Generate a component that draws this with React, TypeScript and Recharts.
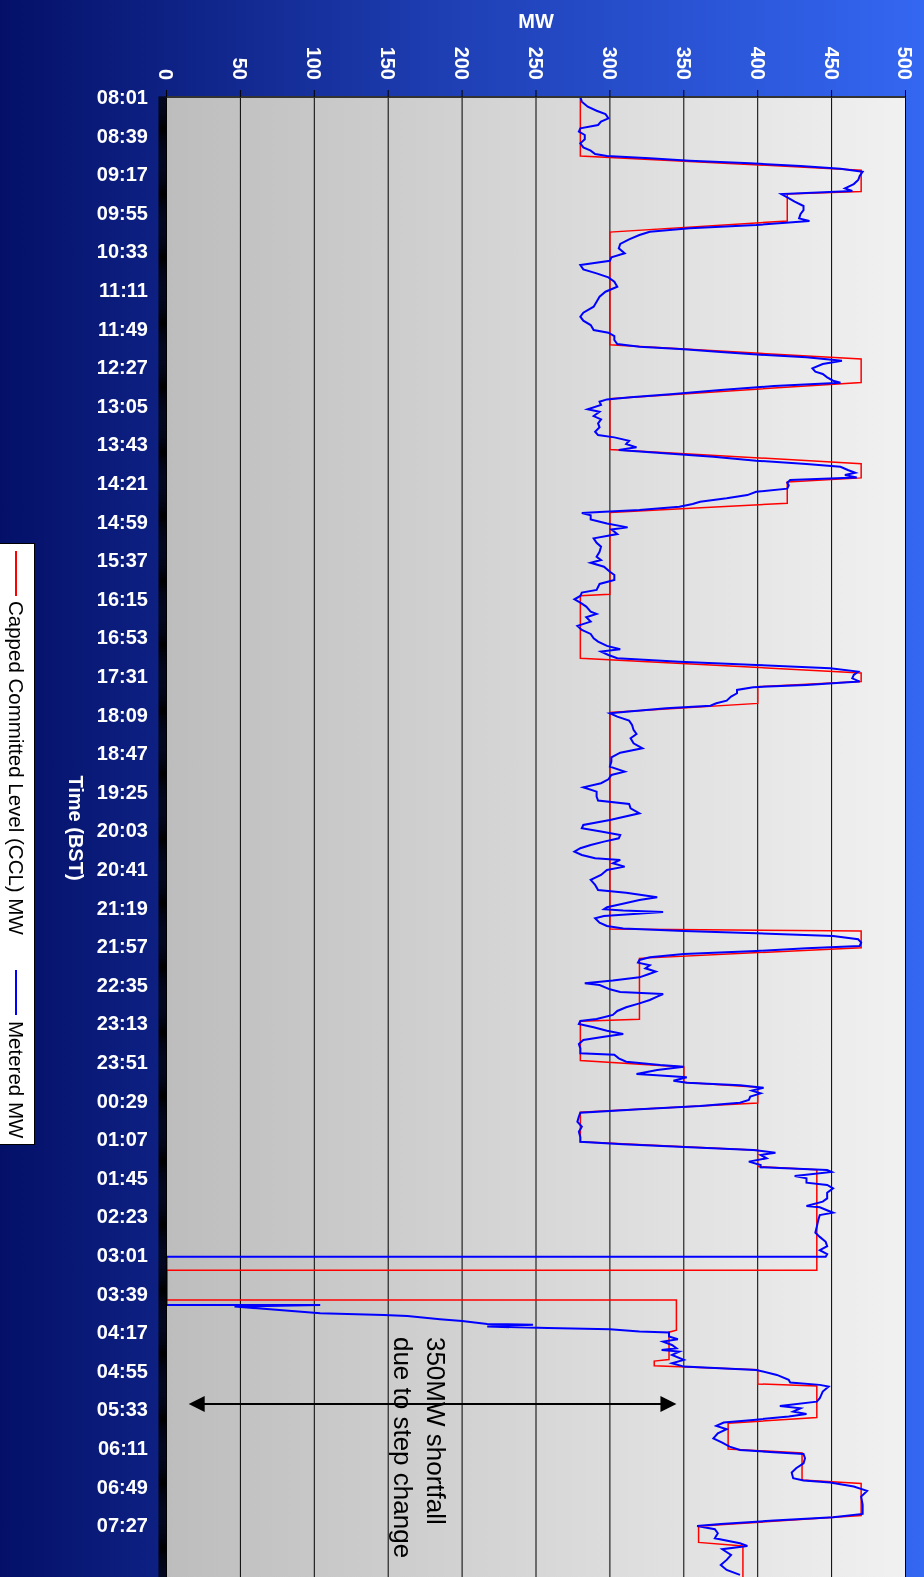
import React from 'react';
import { LineChart, Line, XAxis, YAxis, CartesianGrid, ReferenceLine, ReferenceDot, Label } from 'recharts';

// minutes after 08:01 -> label every 38 minutes
const timeLabels = [
  '08:01', '08:39', '09:17', '09:55', '10:33', '11:11', '11:49', '12:27', '13:05', '13:43',
  '14:21', '14:59', '15:37', '16:15', '16:53', '17:31', '18:09', '18:47', '19:25', '20:03',
  '20:41', '21:19', '21:57', '22:35', '23:13', '23:51', '00:29', '01:07', '01:45', '02:23',
  '03:01', '03:39', '04:17', '04:55', '05:33', '06:11', '06:49', '07:27',
];
const labelStep = 38;
const mwTicks = [0, 50, 100, 150, 200, 250, 300, 350, 400, 450, 500];

// [minutes after 08:01, MW]
const cclLevel: [number, number][] = [
  [0, 280], [58, 280], [72, 470], [93, 470], [95.5, 420], [122, 420], [133, 300],
  [244, 300], [258, 470], [281, 470], [297, 300], [347, 300], [361, 470], [375, 470],
  [379, 420], [400, 420], [409, 300], [489.5, 300], [491, 280], [552.5, 280], [567, 470],
  [575.5, 470], [580.5, 400], [597, 400], [606, 300], [819, 300], [821, 470], [837.5, 470],
  [848, 320], [908, 320], [910, 280], [948.5, 280], [955, 350], [970, 350], [975, 400],
  [990.5, 400], [999.5, 280], [1028.5, 280], [1037, 400], [1053, 400], [1056, 440],
  [1155, 440], [1155, 0], [1184.3, 0], [1184.3, 345], [1214, 345], [1216, 340], [1243, 340],
  [1244.5, 330], [1249, 330], [1253, 400], [1267, 400], [1269, 440], [1300, 440],
  [1305.7, 380], [1331, 380], [1335, 430], [1361.5, 430], [1365, 470], [1396.5, 470],
  [1407, 360], [1423, 360], [1426.5, 390], [1460, 390],
];

const meteredLevel: [number, number][] = [
  [0, 280], [4.6, 281], [9.5, 285], [13.5, 291], [16.7, 297], [21, 299], [24.3, 294], [27.6, 292],
  [30.9, 280], [34.1, 279], [37.4, 283], [41.7, 283], [45.6, 280], [49.6, 282], [52.8, 287],
  [56.1, 290], [58.1, 298], [60.4, 327], [62.7, 354], [65.3, 395], [68, 429], [70.6, 456],
  [73.5, 471], [77.8, 469], [81.7, 468], [85.7, 465], [89.9, 459], [92.6, 464], [95.5, 416],
  [98.8, 420], [103.1, 425], [107.3, 431], [111.3, 431], [115.2, 429], [119.5, 428],
  [122.1, 435], [126, 399], [129.3, 354], [132.6, 327], [135.9, 320], [140.1, 313],
  [144.7, 307], [149, 306], [153.9, 310], [157.9, 301], [161.2, 300], [165.4, 280],
  [169.7, 282], [173.6, 291], [177.6, 299], [181.8, 303], [186.8, 305], [191.7, 297],
  [196.6, 293], [201.5, 291], [206.4, 289], [212.3, 282], [216.3, 280], [220.2, 282],
  [224.5, 287], [229.4, 289], [232, 299], [235.3, 303], [239.2, 303], [243.2, 305],
  [245.8, 320], [248.4, 350], [251.1, 375], [253.7, 402], [256.3, 433], [259.6, 457],
  [262.9, 444], [267.1, 437], [270.4, 439], [272.7, 444], [276, 447], [279.3, 451],
  [281.3, 456], [284.5, 411], [288.5, 375], [292.4, 343], [295.7, 314], [297.7, 298],
  [300, 293], [303.2, 294], [307.5, 285], [309.8, 293], [314.1, 289], [317.4, 294],
  [321.3, 292], [325.2, 293], [329.5, 290], [332.8, 292], [335.1, 303], [338.4, 313],
  [341.6, 311], [344.9, 318], [347.5, 306], [350.2, 332], [354.1, 370], [358.1, 399],
  [361.3, 433], [364, 456], [367.2, 461], [369.9, 466], [372.2, 459], [374.5, 467],
  [377.1, 422], [379.7, 420], [382.3, 421], [385.6, 420], [388.6, 399], [391.9, 393],
  [395.1, 379], [398.4, 361], [400.7, 356], [403.3, 347], [406.6, 320], [408.6, 293],
  [409.6, 281], [411.9, 287], [415.8, 287], [419.8, 298], [423.7, 312], [425.7, 301],
  [430.3, 305], [434.5, 289], [438.8, 291], [442.7, 294], [447.7, 293], [452.6, 291],
  [455.9, 294], [458.5, 287], [462.4, 296], [467.4, 300], [470.5, 303], [475.4, 303],
  [479.4, 293], [485.3, 291], [487.9, 281], [491.2, 280], [494.5, 276], [497.8, 280],
  [501.7, 284], [506.6, 287], [508.9, 291], [512.2, 284], [516.5, 287], [520.7, 278],
  [524.7, 281], [528.6, 287], [532.9, 289], [536.2, 292], [540.4, 298], [543.7, 307],
  [546, 294], [549.3, 299], [552.6, 305], [555.9, 347], [559.1, 399], [562.4, 449],
  [565.7, 468], [569, 465], [572.3, 464], [575.5, 469], [578.8, 433], [581.1, 397],
  [583.7, 386], [587, 386], [590.3, 382], [594.3, 379], [596.9, 372], [599.2, 368],
  [601.8, 338], [605.1, 311], [606.7, 300], [610, 305], [613.9, 313], [618.2, 315],
  [623.1, 316], [627.1, 318], [631.3, 314], [636.3, 316], [641.2, 322], [645.5, 307],
  [650, 301], [654.3, 301], [659.2, 300], [664.2, 310], [667.4, 301], [671.7, 299],
  [675.6, 294], [679.6, 282], [683.9, 291], [688.8, 291], [692.7, 292], [696, 313],
  [700.3, 314], [705.2, 320], [711.7, 300], [716.7, 282], [719.9, 281], [723.2, 294],
  [726.5, 307], [729.8, 306], [733.1, 296], [736.4, 287], [739.6, 280], [742.9, 276],
  [746.2, 281], [749.5, 290], [751.1, 307], [754.4, 302], [757.7, 310], [761, 298],
  [765.9, 294], [770.8, 287], [775.7, 290], [780.7, 292], [783.3, 311], [787.9, 332],
  [790.5, 320], [794.5, 308], [797.7, 298], [799.7, 296], [801, 309], [802.3, 336],
  [804.3, 316], [806.3, 296], [808.6, 290], [812.8, 293], [816.1, 298], [818.7, 309],
  [821, 350], [823.3, 399], [826, 451], [829.2, 468], [832.5, 470], [835.8, 469],
  [838.1, 433], [840.7, 399], [843.7, 350], [847, 327], [849.6, 320], [852.2, 319],
  [854.8, 327], [857.8, 324], [861.1, 331], [863.7, 326], [866.7, 320], [869.9, 302],
  [872.6, 283], [874.2, 293], [878.5, 300], [881.1, 307], [883.1, 336], [885.7, 332],
  [889, 327], [892.3, 320], [896.2, 311], [899.8, 305], [903.7, 302], [907.7, 291],
  [909.7, 280], [912.6, 279], [915.9, 289], [919.2, 298], [922.4, 309], [925.1, 296],
  [928.4, 282], [932.3, 279], [936.6, 280], [941.5, 280], [942.8, 303], [946.4, 306],
  [949.7, 311], [953, 334], [954.6, 350], [957.9, 332], [961.8, 318], [962.8, 329],
  [965.1, 352], [968.4, 343], [970.4, 352], [973, 388], [975.3, 404], [978.2, 396],
  [980.9, 402], [984.1, 395], [987.4, 394], [990.1, 388], [993.3, 361], [996.6, 320],
  [999.9, 280], [1003.8, 279], [1008.8, 278], [1013.7, 281], [1018.6, 279], [1024.2, 280],
  [1028.5, 280], [1031.1, 309], [1034, 354], [1036.7, 397], [1039.3, 412], [1041.6, 402],
  [1044.9, 406], [1048.1, 394], [1051.4, 402], [1053.7, 402], [1056.4, 447], [1058.3, 450],
  [1062.3, 425], [1064.6, 433], [1068.8, 433], [1071.1, 447], [1074.4, 451], [1078.7, 447],
  [1084.3, 447], [1087.5, 444], [1091.8, 433], [1093.1, 442], [1098.4, 451], [1100.7, 442],
  [1105.6, 441], [1112.1, 440], [1118.1, 439], [1122.2, 442], [1127.1, 446], [1131.4, 447],
  [1135.3, 442], [1139.3, 447], [1141.7, 446], [1141.7, 0], [1189.2, 0], [1189.2, 104],
  [1190.8, 46], [1193.5, 70], [1197.4, 104], [1199.1, 147], [1200.1, 163], [1203.3, 185],
  [1205, 200], [1208, 217], [1208.6, 248], [1210.5, 217], [1212, 258], [1213.1, 300],
  [1215.4, 320], [1216.4, 340], [1220.3, 340], [1223, 346], [1225.3, 336], [1228.6, 342],
  [1231.8, 345], [1233.5, 335], [1235.1, 347], [1238.4, 342], [1243.3, 350], [1246.6, 342],
  [1249.9, 350], [1253.2, 399], [1258.1, 413], [1263, 421], [1265.6, 422], [1267.9, 442],
  [1269.6, 448], [1274.5, 444], [1281.1, 442], [1284.4, 440], [1288.6, 415], [1290.9, 429],
  [1294.2, 424], [1296.5, 433], [1299.1, 421], [1302.4, 397], [1305, 377], [1308.3, 372],
  [1311.6, 379], [1315.5, 373], [1320.5, 370], [1324.7, 376], [1328.7, 381], [1332, 388],
  [1334.2, 411], [1335.9, 431], [1340.1, 432], [1345.1, 431], [1350, 426], [1354.3, 423],
  [1359.8, 424], [1362.1, 431], [1364.1, 449], [1368, 465], [1372.3, 474], [1377.9, 470],
  [1386.1, 471], [1394.9, 471], [1398.2, 451], [1401.5, 411], [1404.8, 375], [1406.8, 359],
  [1410, 371], [1414, 373], [1418.9, 371], [1423.8, 388], [1426.5, 393], [1429.7, 376],
  [1435.3, 382], [1440.2, 379], [1445.2, 375], [1450.1, 379], [1455, 388],
];

const shortfallTime = 1286.7;
const shortfallFrom = 15;
const shortfallTo = 345;
const noteLines = ['350MW shortfall', 'due to step change'];
const noteAt = { t: 1220.7, mw: 176 };

const FONT = '"Liberation Sans", Arial, sans-serif';

const cclData = cclLevel.map(([t, mw]) => ({ t, mw }));
const meteredData = meteredLevel.map(([t, mw]) => ({ t, mw }));
// one small tick per minute, a label every 38 minutes
const minuteTicks = Array.from({ length: 1461 }, (_, i) => i);

const TimeTick = (props: any) => {
  const { x, y, payload } = props;
  const v = payload.value;
  const label = v % labelStep === 0 ? timeLabels[v / labelStep] : undefined;
  if (!label) return <g />;
  return (
    <text
      x={x}
      y={y}
      transform={`rotate(-90 ${x} ${y})`}
      textAnchor="end"
      dy="0.35em"
      fill="#fff"
      fontSize={20}
      fontWeight="bold"
      fontFamily={FONT}
    >
      {label}
    </text>
  );
};

const ArrowHead = (dir: 1 | -1) => (p: any) => {
  const { cx, cy } = p;
  return (
    <polygon
      points={`${cx},${cy} ${cx - 8},${cy - dir * 16} ${cx + 8},${cy - dir * 16}`}
      fill="#000"
    />
  );
};

const NoteText = (p: any) => (
  <text x={p.cx} y={p.cy} fill="#000" fontSize={26} fontFamily={FONT}>
    {noteLines.map((line, i) => (
      <tspan key={line} x={p.cx} dy={i === 0 ? 0 : 33}>
        {line}
      </tspan>
    ))}
  </text>
);

const App: React.FC = () => {
  return (
    <div style={{ position: 'fixed', left: 0, top: 0, width: 924, height: 1577, overflow: 'hidden' }}>
      <div
        style={{
          position: 'absolute',
          left: 0,
          top: 0,
          width: 1590,
          height: 924,
          transformOrigin: '0 0',
          transform: 'translate(924px, 0) rotate(90deg)',
          background: 'linear-gradient(to bottom, #3467f2 0%, #1f40b6 50%, #041068 100%)',
        }}
      >
        <LineChart
          width={1590}
          height={924}
          margin={{ top: 18.5, right: 10, bottom: 66.5, left: 37 }}
          style={{ fontFamily: FONT }}
        >
          <defs>
            <linearGradient id="plotBg" x1="0" y1="0" x2="0" y2="1">
              <stop offset="0%" stopColor="#f1f1f1" />
              <stop offset="100%" stopColor="#bdbdbd" />
            </linearGradient>
          </defs>
          <CartesianGrid vertical={false} stroke="#000" fill="url(#plotBg)" fillOpacity={1} />
          <XAxis
            dataKey="t"
            type="number"
            domain={[0, 1460]}
            ticks={minuteTicks}
            interval={0}
            height={100}
            tickSize={8}
            tickMargin={10.5}
            tick={TimeTick}
            tickLine={{ stroke: '#000' }}
            axisLine={{ stroke: '#000' }}
            allowDataOverflow
          >
            <Label
              content={(props: any) => {
                const vb = props.viewBox;
                const cx = vb.x + 731;
                const cy = vb.y + 90.5;
                return (
                  <text x={cx} y={cy} textAnchor="middle" dominantBaseline="central" fill="#fff" fontSize={20} fontWeight="bold" fontFamily={FONT}>
                    Time (BST)
                  </text>
                );
              }}
            />
          </XAxis>
          <YAxis
            type="number"
            domain={[0, 500]}
            ticks={mwTicks}
            width={60}
            tickSize={7}
            tickMargin={10}
            tick={{ fill: '#fff', fontSize: 20, fontWeight: 'bold', fontFamily: FONT }}
            tickLine={{ stroke: '#000' }}
            axisLine={{ stroke: '#333', strokeWidth: 2 }}
          >
            <Label
              content={(props: any) => {
                const vb = props.viewBox;
                const cx = vb.x - 16;
                const cy = vb.y + vb.height / 2;
                return (
                  <text x={cx} y={cy} transform={`rotate(-90 ${cx} ${cy})`} textAnchor="middle" dominantBaseline="central" fill="#fff" fontSize={20} fontWeight="bold" fontFamily={FONT}>
                    MW
                  </text>
                );
              }}
            />
          </YAxis>
          <Line data={cclData} dataKey="mw" type="linear" stroke="#ff0000" strokeWidth={1.5} dot={false} isAnimationActive={false} />
          <Line data={meteredData} dataKey="mw" type="linear" stroke="#0000ff" strokeWidth={2} dot={false} isAnimationActive={false} />
          <ReferenceLine
            segment={[{ x: shortfallTime, y: shortfallFrom + 8 }, { x: shortfallTime, y: shortfallTo - 8 }]}
            stroke="#000"
            strokeWidth={2}
          />
          <ReferenceDot x={shortfallTime} y={shortfallFrom} r={1} shape={ArrowHead(1)} />
          <ReferenceDot x={shortfallTime} y={shortfallTo} r={1} shape={ArrowHead(-1)} />
          <ReferenceDot x={noteAt.t} y={noteAt.mw} r={1} shape={NoteText} />
        </LineChart>
        <div
          style={{
            position: 'absolute',
            left: 543,
            top: 889,
            width: 602,
            height: 38,
            background: '#fff',
            border: '1px solid #000',
            boxSizing: 'border-box',
            fontFamily: FONT,
            fontSize: 20.5,
            color: '#000',
            whiteSpace: 'nowrap',
          }}
        >
          <span style={{ position: 'absolute', left: 7, top: 17, width: 45, height: 2, background: '#ff0000' }} />
          <span style={{ position: 'absolute', left: 57, top: 6, lineHeight: '24px' }}>Capped Committed Level (CCL) MW</span>
          <span style={{ position: 'absolute', left: 426, top: 17, width: 45, height: 2, background: '#0000ff' }} />
          <span style={{ position: 'absolute', left: 477, top: 6, lineHeight: '24px' }}>Metered MW</span>
        </div>
      </div>
    </div>
  );
};

export default App;
